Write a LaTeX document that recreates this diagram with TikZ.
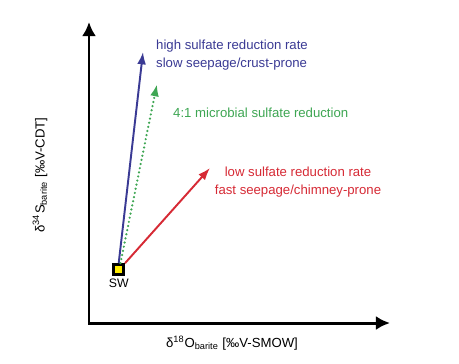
\documentclass[tikz,border=0pt]{standalone}
\usepackage{fontspec}
\setmainfont{Liberation Sans}
\usetikzlibrary{arrows.meta}
\definecolor{srblue}{RGB}{58,58,148}
\definecolor{srgreen}{RGB}{62,166,83}
\definecolor{srred}{RGB}{214,42,53}
\definecolor{swyellow}{RGB}{255,236,0}
\tikzset{
  axis/.style={line width=1.7pt, line join=miter, {Latex[length=8pt,width=8pt]}-{Latex[length=8pt,width=8pt]}},
  trend/.style={line width=1.1pt, -{Latex[length=7pt,width=5pt]}},
  swbox/.style={draw, line width=1.7pt, fill=swyellow, minimum size=5.5pt, inner sep=0pt}
}
\begin{document}
\begin{tikzpicture}[x=0.02cm, y=-0.02cm, font=\fontsize{7.5}{10}\selectfont]
    \useasboundingbox (0,0) rectangle (459,363);
    % axes
    \coordinate (O) at (89,323);
    \coordinate (ytop) at (89,22);
    \coordinate (xend) at (390,323);
    \draw[axis] (ytop) -- (O) -- (xend);
    \node[rotate=90] (ylab) at (40,175) {δ\textsuperscript{34}S\textsubscript{barite} [‰V-CDT]};
    \node (xlab) at (232,343) {δ\textsuperscript{18}O\textsubscript{barite} [‰V-SMOW]};
    % seawater
    \node[swbox] (sw) at (118.7,269.5) {};
    \node[font=\fontsize{7}{8}\selectfont] (swlab) at (118.7,283) {SW};
    % trends
    \coordinate (high) at (143,52);
    \coordinate (micro) at (157,84);
    \coordinate (low) at (210,168);
    \draw[trend, srblue] (sw.north) -- (high);
    \draw[trend, srgreen, line width=1.4pt, dash pattern=on 0pt off 2.4pt, line cap=round] ([xshift=1pt]sw.north) -- (micro);
    \draw[trend, srred] (sw.north east) -- (low);
    \node[anchor=west, align=left, text=srblue] (highlab) at (150,55) {high sulfate reduction rate\\slow seepage/crust-prone};
    \node[anchor=west, text=srgreen] (microlab) at (167,113) {4:1 microbial sulfate reduction};
    \node[align=center, text=srred] (lowlab) at (298,182) {low sulfate reduction rate\\fast seepage/chimney-prone};
\end{tikzpicture}
\end{document}
